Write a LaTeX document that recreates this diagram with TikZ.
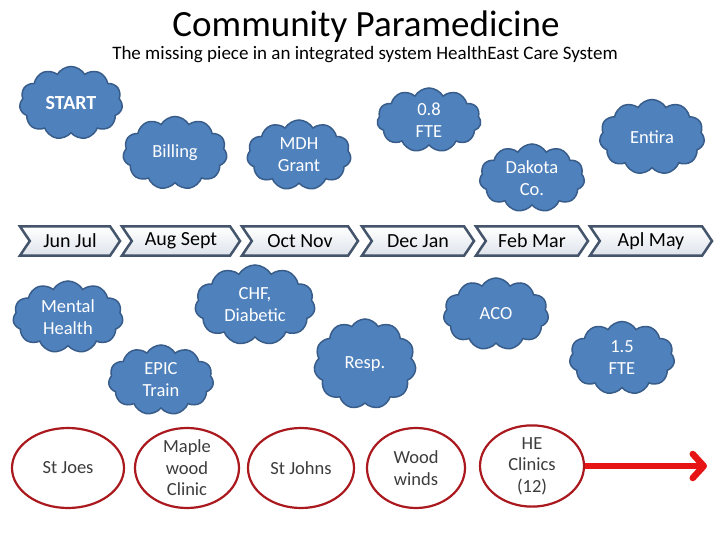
\documentclass[tikz,border=0pt]{standalone}
\usepackage{fontspec}
\setmainfont{Carlito}
\usetikzlibrary{shapes.symbols,shapes.geometric,arrows.meta}
\definecolor{cloudfill}{RGB}{79,129,189}
\definecolor{cloudedge}{RGB}{56,93,138}
\definecolor{chevedge}{RGB}{68,84,106}
\definecolor{chevfill}{RGB}{222,228,236}
\definecolor{ringred}{RGB}{170,25,30}
\definecolor{arrowred}{RGB}{230,20,20}
\definecolor{circtext}{RGB}{60,60,60}
\tikzset{
  puff/.style={cloud, cloud puffs=11, cloud puff arc=120, cloud ignores aspect,
    draw=cloudedge, line width=1.5pt, fill=cloudfill, text=white, inner sep=0pt,
    align=center, font=\fontsize{18.5}{22}\selectfont},
  chev/.style={signal, signal to=east, signal from=west, signal pointer angle=112,
    draw=chevedge, line width=2.5pt, top color=white, bottom color=chevfill,
    minimum height=29pt, inner sep=0pt, font=\fontsize{20}{22}\selectfont},
  ring/.style={ellipse, draw=ringred, line width=2.2pt, fill=white, text=circtext,
    inner sep=0pt, align=center, font=\fontsize{18.5}{21.5}\selectfont}
}
\begin{document}
\begin{tikzpicture}[x=1pt,y=-1pt]
\useasboundingbox (0,0) rectangle (720,540);
\fill[white] (0,0) rectangle (720,540);
% titles
\node (title) at (366,27) {\fontsize{37}{40}\selectfont Community Paramedicine};
\node (sub) at (365,55) {\fontsize{19}{22}\selectfont The missing piece in an integrated system HealthEast Care System};
% upper clouds
\node[puff, minimum width=103pt, minimum height=73pt] (start) at (71,103) {\bfseries\fontsize{20}{22}\selectfont START};
\node[puff, minimum width=104pt, minimum height=73pt] (billing) at (175,153) {Billing};
\node[puff, minimum width=104pt, minimum height=70pt] (mdh) at (299,155) {MDH\\Grant};
\node[puff, minimum width=104pt, minimum height=64pt] (fte08) at (429,120) {0.8\\FTE};
\node[puff, minimum width=105pt, minimum height=68pt] (dakota) at (532,178) {Dakota\\Co.};
\node[puff, minimum width=105pt, minimum height=75pt] (entira) at (652,137) {Entira};
% timeline
\node[chev, minimum width=100pt] (m1) at (70,241) {Jun Jul};
\node[chev, minimum width=118pt] (m2) at (181,241) {Aug Sept};
\node[chev, minimum width=116pt] (m3) at (300,241) {Oct Nov};
\node[chev, minimum width=112pt] (m4) at (418,241) {Dec Jan};
\node[chev, minimum width=112pt] (m5) at (532,241) {Feb Mar};
\node[chev, minimum width=122pt] (m6) at (651,241) {Apl May};
% lower clouds
\node[puff, minimum width=110pt, minimum height=72pt] (mental) at (68,317) {Mental\\Health};
\node[puff, minimum width=120pt, minimum height=80pt] (chf) at (255,305) {CHF,\\Diabetic};
\node[puff, minimum width=105pt, minimum height=70pt] (epic) at (161,380) {EPIC\\Train};
\node[puff, minimum width=102pt, minimum height=90pt] (resp) at (365,364) {Resp.};
\node[puff, minimum width=105pt, minimum height=72pt] (aco) at (496,314) {ACO};
\node[puff, minimum width=105pt, minimum height=73pt] (fte15) at (622,358) {1.5\\FTE};
% sites
\node[ring, minimum width=112pt, minimum height=80pt] (joes) at (68,468) {St Joes};
\node[ring, minimum width=104pt, minimum height=80pt] (maple) at (187,468) {Maple\\wood\\Clinic};
\node[ring, minimum width=106pt, minimum height=80pt] (johns) at (301,468) {St Johns};
\node[ring, minimum width=98pt, minimum height=80pt] (wood) at (416,468) {Wood\\winds};
\node[ring, minimum width=104pt, minimum height=80pt] (he) at (532,466) {HE\\Clinics\\(12)};
\coordinate (arrowend) at (707,466);
\draw[arrowred, line width=6.5pt, -{Straight Barb[length=11pt,width=24pt,line cap=round,round]}] (he.east) -- (arrowend);
\end{tikzpicture}
\end{document}
